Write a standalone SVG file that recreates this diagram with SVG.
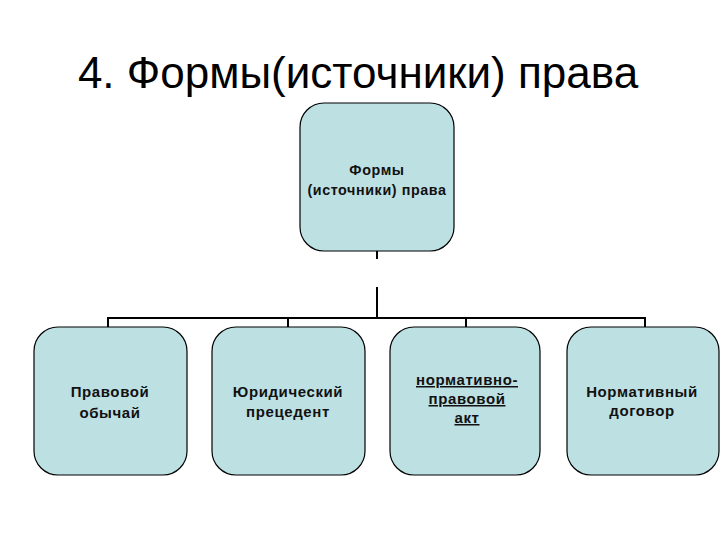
<svg xmlns="http://www.w3.org/2000/svg" width="720" height="540" viewBox="0 0 720 540">
<style>
.box{fill:#bde0e3;stroke:#000;stroke-width:1.2}
.t{font-family:"Liberation Sans",Arial,sans-serif;font-size:15px;fill:#111;text-anchor:middle;letter-spacing:0.6px;font-weight:bold}
.c{stroke:#000;stroke-width:2;fill:none}
.u{text-decoration:underline}
</style>
<rect width="720" height="540" fill="#fff"/>
<text x="358" y="88" font-family="'Liberation Sans',Arial,sans-serif" font-size="44" text-anchor="middle" fill="#000">4. Формы(источники) права</text>
<g id="connectors">
<line class="c" x1="377" y1="251" x2="377" y2="259" stroke-width="1.5"/>
<line class="c" x1="377" y1="287" x2="377" y2="318"/>
<line class="c" x1="108" y1="318" x2="645" y2="318"/>
<line class="c" x1="108" y1="317" x2="108" y2="328"/>
<line class="c" x1="288" y1="317" x2="288" y2="328"/>
<line class="c" x1="466" y1="317" x2="466" y2="328"/>
<line class="c" x1="645" y1="317" x2="645" y2="328"/>
</g>
<g id="root">
<rect class="box" x="300" y="103" width="154" height="148" rx="24"/>
<text class="t" style="font-size:14.3px" x="377" y="175">Формы</text>
<text class="t" style="font-size:14.3px" x="377" y="195">(источники) права</text>
</g>
<g id="n1">
<rect class="box" x="34" y="327" width="153" height="148" rx="24"/>
<text class="t" x="110" y="397">Правовой</text>
<text class="t" x="110" y="418">обычай</text>
</g>
<g id="n2">
<rect class="box" x="212" y="327" width="153" height="148" rx="24"/>
<text class="t" x="288" y="397">Юридический</text>
<text class="t" x="288" y="417">прецедент</text>
</g>
<g id="n3">
<rect class="box" x="390" y="327" width="150" height="148" rx="24"/>
<text class="t u" x="467" y="385">нормативно-</text>
<text class="t u" x="467" y="404">правовой</text>
<text class="t u" x="467" y="423">акт</text>
</g>
<g id="n4">
<rect class="box" x="567" y="327" width="152" height="148" rx="24"/>
<text class="t" x="642" y="397">Нормативный</text>
<text class="t" x="642" y="416">договор</text>
</g>
</svg>
